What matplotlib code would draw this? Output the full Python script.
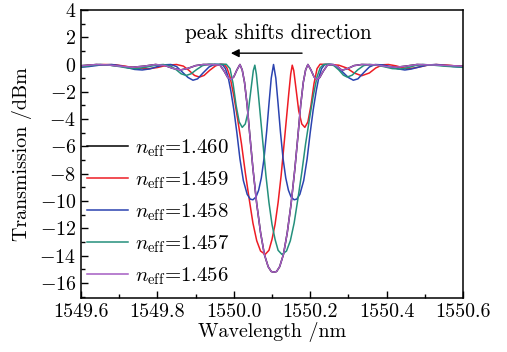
import matplotlib
matplotlib.use("Agg")
import matplotlib.pyplot as plt
from matplotlib.ticker import MultipleLocator

plt.rcParams['font.family'] = 'serif'
plt.rcParams['font.serif'] = ['cmr10', 'DejaVu Serif']
plt.rcParams['mathtext.fontset'] = 'cm'
plt.rcParams['axes.formatter.use_mathtext'] = True
plt.rcParams['axes.unicode_minus'] = True

# ---- data (wavelength nm, transmission dBm) ----
labels = ['1.460', '1.459', '1.458', '1.457', '1.456']
colors = ['black', '#ee1c24', '#2b43b0', '#24907c', '#a45cc2']

wl_blue = [1549.600, 1549.620, 1549.650, 1549.680, 1549.700, 1549.720, 1549.740, 1549.760,
           1549.780, 1549.800, 1549.820, 1549.835, 1549.850, 1549.865, 1549.880, 1549.893,
           1549.905, 1549.920, 1549.935, 1549.950, 1549.970, 1549.978, 1549.985, 1549.992,
           1550.000, 1550.008, 1550.016, 1550.025, 1550.035, 1550.043, 1550.050, 1550.058,
           1550.065, 1550.072, 1550.079, 1550.086, 1550.092, 1550.098, 1550.104, 1550.110,
           1550.116, 1550.122, 1550.129, 1550.136, 1550.143, 1550.150, 1550.158, 1550.165,
           1550.173, 1550.183, 1550.192, 1550.200, 1550.208, 1550.216, 1550.223, 1550.230,
           1550.238, 1550.255, 1550.270, 1550.285, 1550.300, 1550.313, 1550.325, 1550.340,
           1550.355, 1550.370, 1550.390, 1550.410, 1550.430, 1550.448, 1550.465, 1550.485,
           1550.510, 1550.530, 1550.550, 1550.575, 1550.600]
tr_blue = [-0.20, -0.15, -0.04, 0.0, -0.08, -0.22, -0.36, -0.40,
           -0.32, -0.15, -0.02, 0.0, -0.15, -0.55, -0.95, -1.15,
           -1.05, -0.60, -0.18, 0.02, 0.0, -0.3, -0.9, -1.9,
           -3.3, -5.0, -6.9, -8.5, -9.5, -9.85, -9.9, -9.7,
           -9.2, -8.3, -6.9, -4.9, -2.9, -1.0, 0.0, -1.0,
           -2.9, -4.9, -6.9, -8.3, -9.2, -9.7, -9.9, -9.85,
           -9.5, -8.5, -6.9, -5.0, -3.3, -1.9, -0.9, -0.3,
           0.0, 0.02, -0.15, -0.55, -0.95, -1.15, -1.05, -0.60,
           -0.18, 0.0, -0.03, -0.15, -0.32, -0.40, -0.33, -0.18,
           -0.03, 0.0, -0.06, -0.15, -0.20]

wl_red = [1549.600, 1549.630, 1549.660, 1549.690, 1549.715, 1549.745, 1549.775, 1549.800,
          1549.825, 1549.850, 1549.868, 1549.882, 1549.897, 1549.910, 1549.922, 1549.937,
          1549.952, 1549.965, 1549.975, 1549.982, 1549.990, 1550.000, 1550.010, 1550.020,
          1550.030, 1550.040, 1550.050, 1550.060, 1550.070, 1550.082, 1550.092, 1550.100,
          1550.108, 1550.116, 1550.124, 1550.131, 1550.138, 1550.144, 1550.149, 1550.153,
          1550.157, 1550.163, 1550.170, 1550.178, 1550.186, 1550.194, 1550.202, 1550.210,
          1550.218, 1550.226, 1550.250, 1550.275, 1550.295, 1550.315, 1550.335, 1550.355,
          1550.372, 1550.390, 1550.405, 1550.425, 1550.445, 1550.460, 1550.480, 1550.505,
          1550.530, 1550.560, 1550.600]
tr_red = [-0.12, -0.05, 0.0, -0.02, -0.12, -0.27, -0.32, -0.22,
          -0.05, 0.0, -0.12, -0.42, -0.80, -0.92, -0.80, -0.42,
          -0.10, 0.02, 0.0, -0.25, -0.9, -2.3, -4.0, -5.8,
          -7.9, -9.8, -11.6, -12.9, -13.65, -13.9, -13.6, -12.8,
          -11.7, -10.1, -8.1, -6.0, -3.9, -2.1, -0.7, -0.05,
          -0.45, -1.8, -3.4, -4.35, -4.6, -4.2, -3.0, -1.4,
          -0.3, 0.02, 0.0, -0.05, -0.25, -0.62, -0.82, -0.62,
          -0.25, -0.02, 0.0, -0.10, -0.25, -0.30, -0.22, -0.06,
          0.0, -0.05, -0.15]

wl_teal = [1549.600, 1549.625, 1549.650, 1549.675, 1549.700, 1549.725, 1549.745, 1549.770,
           1549.795, 1549.815, 1549.835, 1549.850, 1549.862, 1549.875, 1549.888, 1549.902,
           1549.918, 1549.935, 1549.955, 1549.980, 1549.990, 1549.998, 1550.006, 1550.014,
           1550.022, 1550.030, 1550.038, 1550.045, 1550.051, 1550.055, 1550.059, 1550.064,
           1550.070, 1550.077, 1550.084, 1550.092, 1550.100, 1550.108, 1550.116, 1550.126,
           1550.138, 1550.148, 1550.158, 1550.168, 1550.178, 1550.188, 1550.198, 1550.208,
           1550.218, 1550.226, 1550.235, 1550.250, 1550.262, 1550.275, 1550.287, 1550.297,
           1550.310, 1550.325, 1550.340, 1550.355, 1550.375, 1550.395, 1550.415, 1550.435,
           1550.455, 1550.475, 1550.495, 1550.520, 1550.550, 1550.600]
tr_teal = [-0.18, -0.08, 0.0, -0.05, -0.15, -0.27, -0.30, -0.20,
           -0.05, 0.0, -0.12, -0.40, -0.68, -0.80, -0.68, -0.38,
           -0.08, 0.02, 0.0, 0.02, -0.3, -1.4, -3.0, -4.2,
           -4.6, -4.35, -3.4, -1.8, -0.45, -0.05, -0.7, -2.1,
           -3.9, -6.0, -8.1, -10.1, -11.7, -12.8, -13.6, -13.9,
           -13.65, -12.9, -11.6, -9.8, -7.9, -5.8, -4.0, -2.3,
           -0.9, -0.25, 0.0, 0.02, -0.08, -0.40, -0.78, -0.92,
           -0.78, -0.38, -0.08, 0.0, -0.05, -0.17, -0.30, -0.33,
           -0.24, -0.08, 0.0, -0.04, -0.12, -0.20]

wl_purple = [1549.600, 1549.640, 1549.670, 1549.700, 1549.735, 1549.765, 1549.795, 1549.820,
             1549.840, 1549.860, 1549.880, 1549.900, 1549.920, 1549.945, 1549.964, 1549.975,
             1549.984, 1549.992, 1550.000, 1550.008, 1550.016, 1550.022, 1550.028, 1550.035,
             1550.042, 1550.050, 1550.060, 1550.070, 1550.080, 1550.090, 1550.098, 1550.105,
             1550.112, 1550.120, 1550.130, 1550.140, 1550.150, 1550.160, 1550.168, 1550.175,
             1550.182, 1550.188, 1550.194, 1550.202, 1550.210, 1550.217, 1550.225, 1550.234,
             1550.245, 1550.260, 1550.270, 1550.283, 1550.298, 1550.315, 1550.335, 1550.370,
             1550.400, 1550.425, 1550.450, 1550.480, 1550.530, 1550.600]
tr_purple = [-0.10, 0.0, -0.03, -0.12, -0.20, -0.12, 0.0, -0.08,
             -0.28, -0.40, -0.28, -0.08, 0.0, 0.0, -0.05, -0.5,
             -0.95, -1.1, -0.9, -0.4, 0.0, -0.4, -1.3, -3.0,
             -5.2, -7.6, -10.2, -12.3, -13.9, -14.8, -15.15, -15.2,
             -15.15, -14.8, -13.9, -12.3, -10.2, -7.6, -5.2, -3.0,
             -1.3, -0.4, 0.0, -0.4, -0.9, -1.1, -0.95, -0.5,
             -0.05, 0.0, -0.12, -0.42, -0.30, -0.08, 0.0, -0.02,
             -0.15, -0.20, -0.12, 0.0, -0.04, -0.12]

# black curve (n_eff = 1.460) lies under the purple one in the picture
wl_black = list(wl_purple)
tr_black = list(tr_purple)

series = [(wl_black, tr_black), (wl_red, tr_red), (wl_blue, tr_blue),
          (wl_teal, tr_teal), (wl_purple, tr_purple)]

fig = plt.figure(figsize=(5.07, 3.52), dpi=100)
ax = fig.add_axes([0.160, 0.153, 0.753, 0.819])

for (wl, tr), lab, c in zip(series, labels, colors):
    ax.plot(wl, tr, color=c, lw=1.1, label=r'$n_{\rm eff}$=' + lab)

ax.set_xlim(1549.6, 1550.6)
ax.set_ylim(-17.1, 4)
ax.xaxis.set_major_locator(MultipleLocator(0.2))
ax.xaxis.set_minor_locator(MultipleLocator(0.1))
ax.yaxis.set_major_locator(MultipleLocator(2))
ax.yaxis.set_minor_locator(MultipleLocator(1))
ax.xaxis.set_major_formatter(matplotlib.ticker.FormatStrFormatter('%.1f'))
ax.tick_params(which='both', direction='in', labelsize=14.4, width=1.0)
ax.tick_params(which='major', length=5)
ax.tick_params(which='minor', length=3)
for s in ax.spines.values():
    s.set_linewidth(1.1)

ax.set_xlabel('Wavelength /nm', fontsize=14.4, labelpad=1)
ax.set_ylabel('Transmission /dBm', fontsize=14.4, labelpad=5)

ax.annotate('', xy=(1549.985, 0.83), xytext=(1550.186, 0.83),
            arrowprops=dict(arrowstyle='-|>', color='black', lw=1.0,
                            mutation_scale=12))
ax.text(1550.116, 2.3, 'peak shifts direction', fontsize=15.2,
        ha='center', va='center')

leg = ax.legend(loc='lower left', bbox_to_anchor=(-0.018, -0.005), frameon=False,
                fontsize=15, handlelength=2.0, handletextpad=0.3,
                labelspacing=0.5, borderaxespad=0.2)

fig.savefig('out.png', dpi=100)
